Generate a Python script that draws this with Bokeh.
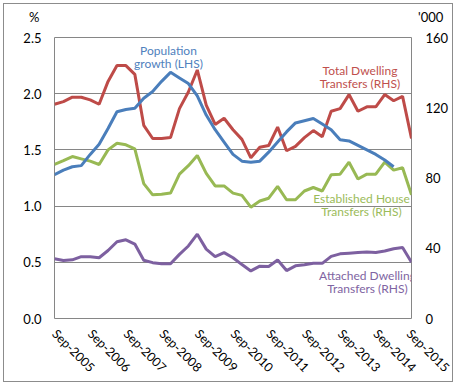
import math
from bokeh.plotting import figure
from bokeh.models import Range1d, LinearAxis, FixedTicker, Label, NumeralTickFormatter, Div
from bokeh.embed import file_html
from bokeh.resources import INLINE

# Quarterly data, Sep-2005 .. Sep-2015
tick_labels = ["Sep-2005", "Sep-2006", "Sep-2007", "Sep-2008", "Sep-2009", "Sep-2010",
               "Sep-2011", "Sep-2012", "Sep-2013", "Sep-2014", "Sep-2015"]

# Population growth, % (LHS) - ends Mar-2015
population = [1.28, 1.32, 1.35, 1.36, 1.46, 1.55, 1.69, 1.84, 1.86, 1.87,
              1.96, 2.02, 2.11, 2.19, 2.14, 2.09, 1.98, 1.81, 1.68, 1.57,
              1.46, 1.40, 1.39, 1.40, 1.48, 1.57, 1.66, 1.74, 1.76, 1.78,
              1.73, 1.68, 1.59, 1.58, 1.54, 1.50, 1.46, 1.41, 1.35]

# Transfers, '000 (RHS)
total_dwelling = [122, 123.5, 126, 126, 124.5, 122, 135, 144, 144, 139,
                  110, 102.5, 102.5, 103, 119.5, 129, 141.5, 121.5, 110.5, 114,
                  107.5, 102, 91.5, 97.5, 98.5, 109, 95.5, 98, 103, 107,
                  103.5, 118, 119.5, 127.5, 118, 120.5, 120.5, 127.5, 124, 126.5,
                  102.5]

established_house = [87.7, 89.9, 92.2, 90.9, 89.6, 87.7, 96.0, 99.8, 98.9, 96.6,
                     76.8, 70.4, 70.7, 71.4, 82.2, 87.0, 92.8, 82.6, 75.5, 75.5,
                     71.4, 70.1, 63.4, 66.9, 68.5, 75.2, 67.6, 67.6, 72.6, 74.6,
                     72.6, 81.9, 82.2, 89.0, 79.4, 82.2, 82.2, 89.0, 84.5, 85.8,
                     70.4]

attached_dwelling = [34.0, 33.0, 33.4, 35.2, 35.2, 34.6, 38.7, 43.7, 44.8, 42.4,
                     33.2, 31.8, 31.2, 31.2, 36.5, 41.3, 48.0, 39.5, 35.2, 37.5,
                     34.6, 30.7, 27.1, 29.8, 29.6, 33.3, 27.3, 30.0, 30.6, 31.4,
                     31.4, 35.4, 36.8, 37.2, 37.6, 37.8, 37.6, 38.4, 39.7, 40.4,
                     32.0]

x_all = list(range(len(total_dwelling)))
x_pop = list(range(len(population)))

FONT = "Lato"
GRID = "#868686"

p = figure(width=450, height=379, output_backend="svg", toolbar_location=None,
           x_range=Range1d(0, 40), y_range=Range1d(0, 2.5),
           min_border_left=50, min_border_right=43, min_border_top=33, min_border_bottom=65)
p.styles = {"border": "1px solid #8c8c8c", "box-sizing": "border-box",
            "margin-left": "3px", "margin-top": "3px"}
p.outline_line_color = GRID
p.outline_line_width = 1
p.background_fill_color = "white"
p.border_fill_color = "white"

p.extra_y_ranges = {"rhs": Range1d(0, 160)}

# grids
p.xgrid.visible = False
p.ygrid.grid_line_color = GRID
p.ygrid.grid_line_width = 1
p.ygrid.ticker = FixedTicker(ticks=[0, 0.5, 1.0, 1.5, 2.0, 2.5])

def style_axis(ax, standoff, size="13px"):
    ax.axis_line_color = None
    ax.major_tick_line_color = None
    ax.minor_tick_line_color = None
    ax.major_tick_out = 0
    ax.major_tick_in = 0
    ax.minor_tick_out = 0
    ax.major_label_standoff = standoff
    ax.major_label_text_font = FONT
    ax.major_label_text_font_size = size
    ax.major_label_text_color = "#000000"

# left axis
yl = p.yaxis[0]
yl.ticker = FixedTicker(ticks=[0, 0.5, 1.0, 1.5, 2.0, 2.5])
yl.formatter = NumeralTickFormatter(format="0.0")
style_axis(yl, 13)

# right axis
yr = LinearAxis(y_range_name="rhs", ticker=FixedTicker(ticks=[0, 40, 80, 120, 160]),
                formatter=NumeralTickFormatter(format="0"))
style_axis(yr, 14)
p.add_layout(yr, "right")

# x axis
xa = p.xaxis[0]
xa.ticker = FixedTicker(ticks=[4 * k for k in range(len(tick_labels))])
xa.major_label_overrides = {4 * k: lab for k, lab in enumerate(tick_labels)}
xa.major_label_orientation = -math.pi / 4
style_axis(xa, 13, "12.5px")

LW = 3
p.line(x_all, total_dwelling, y_range_name="rhs", line_color="#BE4B48", line_width=LW)
p.line(x_all, established_house, y_range_name="rhs", line_color="#98B954", line_width=LW)
p.line(x_all, attached_dwelling, y_range_name="rhs", line_color="#7D60A0", line_width=LW)
p.line(x_pop, population, line_color="#4A7EBB", line_width=LW)

def note(x, y, text, color, size="12px", align="center"):
    p.add_layout(Label(x=x, y=y, text=text, text_color=color, text_font=FONT,
                       text_font_size=size, text_align=align, text_baseline="middle"))

note(12.77, 2.384, "Population", "#4F81BD")
note(12.77, 2.270, "growth (LHS)", "#4F81BD")
note(34.23, 2.206, "Total Dwelling", "#C0504D")
note(34.23, 2.090, "Transfers (RHS)", "#C0504D")
note(34.4, 1.068, "Established House", "#9BBB59")
note(34.4, 0.952, "Transfers (RHS)", "#9BBB59")
note(35.07, 0.383, "Attached Dwelling", "#8064A2")
note(35.07, 0.267, "Transfers (RHS)", "#8064A2")

# unit captions above the two value axes (outside the plot frame)
def caption(text, left, top):
    return Div(text=text, styles={"position": "absolute", "left": f"{left}px", "top": f"{top}px",
                                  "font-family": FONT, "font-size": "13px", "color": "#000000",
                                  "line-height": "16px", "white-space": "nowrap"})

cap_left = caption("%", 24, 4)
cap_right = caption("'000", 413, 4)

open("out.html", "w").write(file_html([p, cap_left, cap_right], INLINE))
